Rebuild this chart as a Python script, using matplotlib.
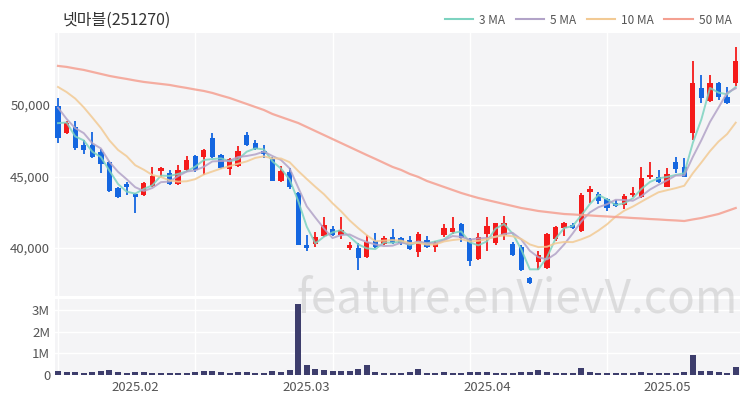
import matplotlib
matplotlib.use("Agg")
import matplotlib.pyplot as plt
from matplotlib.lines import Line2D
import numpy as np
import pandas as pd

plt.rcParams['font.family'] = ['Noto Sans CJK KR', 'DejaVu Sans']

title = "넷마블(251270)"

# daily candles (won)
opens = [49930, 48040, 48460, 47200, 47200, 46710, 46010, 44200, 44480, 43780,
         43710, 44340, 45390, 45250, 44480, 45460, 46430, 46360, 47690, 46500,
         45530, 45740, 47900, 47340, 46780, 46220, 44690, 45320, 43850, 40210,
         40280, 40840, 41330, 40910, 40000, 40000, 39370, 40490, 40280, 40770,
         40700, 40560, 39720, 40560, 40070, 40910, 41120, 41680, 40630, 39240,
         40980, 40350, 40910, 40280, 40070, 37900, 39030, 38610, 40630, 41400,
         41610, 41190, 43920, 43780, 43430, 43150, 43010, 43710, 43570, 44970,
         44970, 44270, 46010, 45670, 48040, 51190, 50280, 51540, 50560, 51540]
highs = [50490, 48880, 48880, 47550, 48110, 46920, 46080, 44270, 44620, 43850,
         44620, 45670, 45670, 45460, 45810, 46430, 46500, 46920, 48040, 46570,
         46290, 47130, 48110, 47550, 47200, 46360, 45740, 45600, 43920, 40910,
         41120, 42170, 41540, 42170, 40420, 40350, 40910, 41050, 40840, 41330,
         40770, 40840, 41120, 40840, 40490, 41680, 42170, 41750, 40700, 41050,
         42170, 41750, 42240, 40420, 40210, 37980, 39790, 41050, 41540, 41820,
         41750, 43850, 44340, 43920, 43500, 43360, 43780, 44270, 45670, 46010,
         45460, 45600, 46360, 46290, 53080, 52100, 52100, 51610, 51260, 54050]
lows = [47340, 47970, 46850, 46570, 46290, 45250, 43920, 43500, 43710, 42450,
        43640, 44270, 44970, 44410, 44410, 45320, 45320, 45110, 46290, 45530,
        45110, 45670, 47130, 46850, 46290, 44690, 44620, 44130, 40210, 39790,
        40070, 40770, 40840, 40630, 39860, 38470, 39300, 40000, 40210, 40280,
        40210, 39860, 39370, 40000, 39720, 40770, 40980, 40420, 38750, 39170,
        39800, 40210, 40560, 39440, 38400, 37490, 38470, 38540, 40490, 40840,
        41330, 41120, 43150, 43080, 42590, 42870, 42730, 43570, 43500, 44830,
        44550, 44270, 45250, 44970, 47550, 50140, 50210, 50350, 50070, 51330]
closes = [47690, 48740, 46990, 46850, 46360, 45870, 43990, 43570, 44270, 43570,
          44550, 45040, 45600, 44480, 45460, 46150, 45460, 46850, 46360, 45600,
          46230, 46780, 47200, 46920, 46570, 44690, 45390, 44270, 40210, 40000,
          40770, 41610, 40910, 41260, 40210, 39300, 40420, 40070, 40700, 40350,
          40350, 39930, 40980, 40070, 40350, 41400, 41400, 40700, 39100, 40770,
          41540, 41750, 41750, 39510, 38470, 37560, 39510, 40980, 41470, 41750,
          41400, 43710, 44130, 43290, 42800, 42940, 43640, 43850, 44900, 45110,
          44620, 45180, 45530, 44970, 51540, 50490, 51540, 50560, 50140, 53080]
# closes before the visible window, estimated from where the MA lines start
prior_closes = [52300, 51500, 53000, 53500, 53200, 52700, 50200, 48600, 49900]

volumes = [0.18, 0.12, 0.14, 0.09, 0.14, 0.20, 0.23, 0.14, 0.10, 0.14,
           0.14, 0.10, 0.10, 0.10, 0.10, 0.10, 0.14, 0.18, 0.18, 0.12,
           0.10, 0.12, 0.14, 0.10, 0.08, 0.17, 0.15, 0.23, 3.27, 0.46,
           0.28, 0.23, 0.17, 0.18, 0.20, 0.28, 0.46, 0.12, 0.10, 0.10,
           0.10, 0.12, 0.28, 0.10, 0.08, 0.12, 0.10, 0.08, 0.13, 0.12,
           0.12, 0.10, 0.10, 0.10, 0.12, 0.14, 0.22, 0.12, 0.10, 0.08,
           0.08, 0.30, 0.12, 0.10, 0.10, 0.10, 0.10, 0.10, 0.12, 0.10,
           0.08, 0.10, 0.10, 0.14, 0.90, 0.20, 0.20, 0.14, 0.10, 0.38]

# 50 day average
ma50 = [52730, 52660, 52550, 52450, 52310, 52170, 52030, 51920, 51820, 51710,
        51610, 51540, 51470, 51400, 51290, 51190, 51080, 50980, 50840, 50660,
        50490, 50280, 50070, 49860, 49650, 49370, 49160, 48950, 48740, 48460,
        48180, 47900, 47620, 47340, 47060, 46780, 46500, 46230, 45950, 45670,
        45460, 45180, 44970, 44690, 44480, 44270, 44060, 43850, 43670, 43500,
        43360, 43220, 43080, 42940, 42800, 42700, 42590, 42520, 42450, 42380,
        42350, 42310, 42280, 42240, 42210, 42170, 42140, 42100, 42070, 42030,
        42000, 41960, 41930, 41890, 42000, 42100, 42240, 42380, 42590, 42800]

tick_pos = [9, 29, 50, 71]
tick_labels = ["2025.02", "2025.03", "2025.04", "2025.05"]

up_color = '#f51a1a'
down_color = '#1466e0'
ma_colors = {'3 MA': '#7dd3c0', '5 MA': '#b2a3c8', '10 MA': '#f2ca94', '50 MA': '#f4a091'}
bg = '#f4f4f6'
txt = '#555555'

o = np.array(opens); h = np.array(highs); l = np.array(lows); c = np.array(closes)
x = np.arange(len(c))
all_close = pd.Series(prior_closes + closes)
n0 = len(prior_closes)
ma3 = all_close.rolling(3).mean().values[n0:]
ma5 = all_close.rolling(5).mean().values[n0:]
ma10 = all_close.rolling(10).mean().values[n0:]

fig = plt.figure(figsize=(7.5, 4), dpi=100)
ax = fig.add_axes([55/750, 1-296/400, 685/750, 263/400])
axv = fig.add_axes([55/750, 1-375/400, 685/750, 76/400], sharex=ax)

for a in (ax, axv):
    a.set_facecolor(bg)
    for s in a.spines.values():
        s.set_visible(False)
    a.tick_params(which='both', length=0, colors=txt, labelsize=9.5)
    a.set_xticks(np.arange(0, 80, 16), minor=True)
    a.grid(True, which='minor', axis='x', color='white', linewidth=1)
    a.grid(True, which='major', axis='y', color='white', linewidth=1)
    a.set_axisbelow(True)

up = c >= o
colors = np.where(up, up_color, down_color)
body_bottom = np.minimum(o, c)
body_h = np.maximum(np.abs(c - o), 60)
ax.vlines(x, l, h, colors=colors, linewidth=1.3, zorder=2)
ax.bar(x, body_h, bottom=body_bottom, width=0.62, color=colors, zorder=3)

ax.plot(x, ma3, color=ma_colors['3 MA'], lw=1.4, alpha=0.85, zorder=4)
ax.plot(x, ma5, color=ma_colors['5 MA'], lw=1.4, alpha=0.85, zorder=4)
ax.plot(x, ma10, color=ma_colors['10 MA'], lw=1.4, alpha=0.85, zorder=4)
ax.plot(x, ma50, color=ma_colors['50 MA'], lw=1.6, alpha=0.85, zorder=4)

ax.set_ylim(36650, 55030)
ax.set_yticks([40000, 45000, 50000])
ax.set_yticklabels(["40,000", "45,000", "50,000"])
ax.set_xlim(-0.35, 79.5)
ax.tick_params(axis='x', which='both', labelbottom=False)

axv.bar(x, np.array(volumes) * 1e6, width=0.7, color='#3d3d6c', zorder=3)
axv.set_ylim(0, 3.5e6)
axv.set_yticks([0, 1e6, 2e6, 3e6])
axv.set_yticklabels(["0", "1M", "2M", "3M"])
axv.set_xticks(tick_pos)
axv.set_xticklabels(tick_labels)
axv.tick_params(axis='x', pad=4)

fig.text(62/750, 1-20/400, title, fontsize=11.5, color='#333333', va='center', ha='left')

handles = [Line2D([], [], color=col, lw=1.5) for col in ma_colors.values()]
fig.legend(handles, list(ma_colors.keys()), loc='center right', bbox_to_anchor=(742/750, 1-20/400),
           ncol=4, frameon=False, fontsize=8.5, handlelength=2.4, handletextpad=0.5,
           columnspacing=0.9, labelcolor=txt)

fig.text(517/750, 1-299/400, "feature.enVievV.com", fontsize=33, color='#c8c8c8',
         alpha=0.55, ha='center', va='center', zorder=10)

fig.savefig("out.png", dpi=100, facecolor='white')
